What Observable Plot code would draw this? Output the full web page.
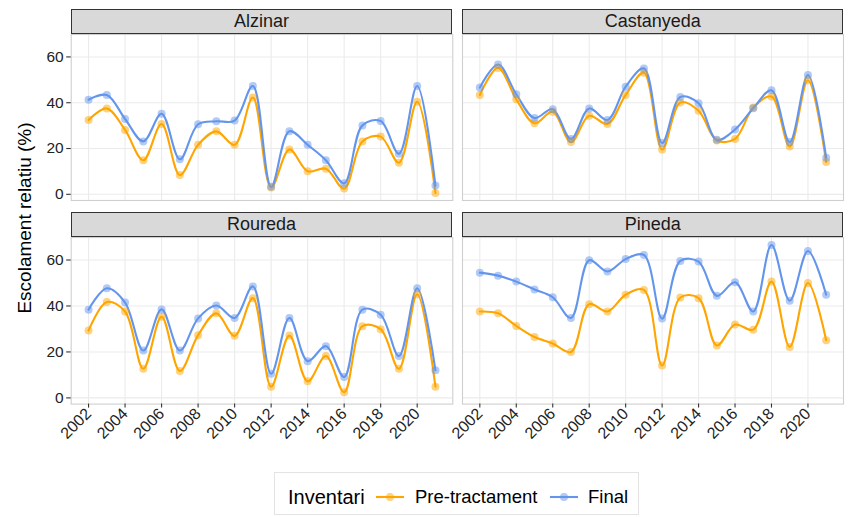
<!DOCTYPE html>
<html>
<head>
<meta charset="utf-8">
<script src="https://cdn.jsdelivr.net/npm/d3@7"></script>
<script src="https://cdn.jsdelivr.net/npm/@observablehq/plot@0.6"></script>
<style>
  html, body { margin: 0; padding: 0; background: #fff; }
  body { font-family: "Liberation Sans", Arial, Helvetica, sans-serif; }
  #chart { position: relative; width: 849px; height: 517px; overflow: hidden; }
  .abs { position: absolute; }
  .strip { position: absolute; box-sizing: border-box; background: #d9d9d9; border: 1.3px solid #333;
           display: flex; align-items: center; justify-content: center; font-size: 18px; color: #1a1a1a; }
  .ytitle { position: absolute; left: 25px; top: 218px; transform: translate(-50%, -50%) rotate(-90deg);
            white-space: nowrap; font-size: 19px; color: #000; }
  .legend { position: absolute; left: 274px; top: 472px; width: 365px; height: 43px; box-sizing: border-box;
            border: 1px solid #e3e3e3; }
  .legend span, .legend svg { position: absolute; top: 24px; transform: translateY(-50%); white-space: nowrap; }
</style>
</head>
<body>
<div id="chart"></div>
<script>
// ---- data ----
const years = d3.range(2002, 2022);
const panels = ["Alzinar", "Castanyeda", "Roureda", "Pineda"];
const seriesNames = ["Pre-tractament", "Final"];
const seriesColors = ["#FFA500", "#6495ED"];
const xTicks = [2002, 2004, 2006, 2008, 2010, 2012, 2014, 2016, 2018, 2020];
const yTicks = [0, 20, 40, 60];

const alzinarPre   = [32.5, 37.5, 28.1, 14.9, 30.7, 8.4, 21.6, 27.5, 21.6, 42.3, 3.0, 19.6, 10.1, 11.2, 2.5, 23.1, 25.2, 13.8, 40.4, 0.6];
const alzinarFinal = [41.3, 43.4, 32.9, 23.1, 35.2, 15.3, 30.6, 31.9, 32.2, 47.3, 3.3, 27.5, 21.6, 14.9, 4.8, 30.1, 32.0, 17.7, 47.3, 3.8];
const castanyedaPre   = [43.4, 55.2, 41.5, 31.0, 36.1, 22.8, 34.3, 30.7, 43.4, 53.1, 19.6, 40.1, 36.5, 23.5, 24.2, 37.9, 42.7, 20.9, 49.8, 14.1];
const castanyedaFinal = [46.6, 56.7, 43.7, 33.3, 37.2, 24.2, 37.5, 32.5, 47.0, 55.0, 22.4, 42.5, 39.8, 23.8, 28.3, 37.6, 45.4, 22.8, 52.1, 16.0];
const rouredaPre   = [29.3, 41.7, 37.6, 12.7, 35.3, 11.7, 27.3, 36.8, 27.0, 43.4, 4.9, 27.1, 7.2, 18.2, 2.5, 31.2, 29.9, 12.7, 45.1, 4.9];
const rouredaFinal = [38.4, 47.7, 41.5, 20.6, 38.5, 20.6, 34.6, 40.2, 34.8, 48.5, 10.5, 34.8, 16.0, 22.5, 9.1, 38.4, 36.2, 18.2, 47.7, 12.0];
const pinedaPre   = [37.6, 36.8, 31.3, 26.5, 23.7, 20.0, 40.8, 37.6, 44.9, 47.0, 14.1, 43.7, 43.4, 22.8, 31.9, 29.7, 50.6, 22.2, 50.0, 25.1];
const pinedaFinal = [54.5, 53.2, 50.6, 47.2, 43.8, 34.8, 59.9, 55.0, 60.4, 62.2, 34.5, 59.6, 59.3, 44.4, 50.3, 37.6, 66.5, 42.3, 63.9, 44.9];

const panelSeries = {
  Alzinar: [alzinarPre, alzinarFinal],
  Castanyeda: [castanyedaPre, castanyedaFinal],
  Roureda: [rouredaPre, rouredaFinal],
  Pineda: [pinedaPre, pinedaFinal]
};

// ---- shared scales (ggplot-like 5% expansion) ----
const allVals = Object.values(panelSeries).flat(2);
const yMin = d3.min(allVals), yMax = d3.max(allVals);
const yPad = (yMax - yMin) * 0.05;
const yDomain = [yMin - yPad, yMax + yPad];
const xPad = (d3.max(years) - d3.min(years)) * 0.05;
const xDomain = [d3.min(years) - xPad, d3.max(years) + xPad];

const font = '"Liberation Sans", Arial, Helvetica, sans-serif';
const chart = document.getElementById("chart");

// layout of the 2x2 grid of panels
const colX = [[70.7, 452.3], [462.3, 843.3]];
const rowY = [[34, 200], [236.7, 403.3]];
const stripH = 25;

panels.forEach((name, i) => {
  const col = i % 2, row = Math.floor(i / 2);
  const [x0, x1] = colX[col];
  const [y0, y1] = rowY[row];
  const showY = col === 0, showX = row === 1;
  const mL = showY ? x0 : 1, mR = 1, mT = 1, mB = showX ? 60 : 1;
  const left = showY ? 0 : x0 - 1;
  const width = mL + (x1 - x0) + mR;
  const height = mT + (y1 - y0) + mB;

  const [pre, fin] = panelSeries[name];
  const data = [];
  seriesNames.forEach((s, k) => {
    const vals = k === 0 ? pre : fin;
    years.forEach((yr, j) => data.push({year: yr, value: vals[j], series: s}));
  });

  const marks = [
    Plot.gridX(xTicks, {stroke: "#ebebeb", strokeOpacity: 1, strokeWidth: 1.1}),
    Plot.gridY(yTicks, {stroke: "#ebebeb", strokeOpacity: 1, strokeWidth: 1.1}),
    Plot.frame({stroke: "#cfcfcf", strokeWidth: 1.1}),
    Plot.line(data, {x: "year", y: "value", z: "series", stroke: "series", curve: "catmull-rom", strokeWidth: 2.1}),
    Plot.dot(data, {x: "year", y: "value", fill: "series", r: 4, fillOpacity: 0.5, stroke: null})
  ];
  if (showX) marks.push(Plot.axisX(xTicks, {tickRotate: -45, tickSize: 4, tickPadding: 3, fontSize: 16,
    tickFormat: d => String(d), fill: "#222", stroke: "#333", strokeWidth: 1.1, label: null}));
  if (showY) marks.push(Plot.axisY(yTicks, {tickSize: 4.5, tickPadding: 3, fontSize: 15.5,
    fill: "#222", stroke: "#333", strokeWidth: 1.1, label: null}));

  const p = Plot.plot({
    width, height,
    marginLeft: mL, marginRight: mR, marginTop: mT, marginBottom: mB,
    style: {fontFamily: font, background: "transparent", overflow: "visible"},
    x: {domain: xDomain, axis: null, label: null},
    y: {domain: yDomain, axis: null, label: null},
    color: {domain: seriesNames, range: seriesColors},
    marks
  });
  p.classList.add("abs");
  p.style.left = left + "px";
  p.style.top = (y0 - mT) + "px";
  chart.appendChild(p);

  const strip = document.createElement("div");
  strip.className = "strip";
  strip.style.left = x0 + "px";
  strip.style.top = (y0 - stripH) + "px";
  strip.style.width = (x1 - x0) + "px";
  strip.style.height = stripH + "px";
  strip.textContent = name;
  chart.appendChild(strip);
});

// y title
const yt = document.createElement("div");
yt.className = "ytitle";
yt.textContent = "Escolament relatiu (%)";
chart.appendChild(yt);

// legend
const lg = document.createElement("div");
lg.className = "legend";
const title = document.createElement("span");
title.style.left = "13px"; title.style.fontSize = "20px"; title.textContent = "Inventari";
lg.appendChild(title);
const keyX = [101, 275], labX = [140, 313];
seriesNames.forEach((s, k) => {
  const svg = d3.create("svg").attr("width", 28).attr("height", 20).style("left", keyX[k] + "px");
  svg.append("line").attr("x1", 0).attr("x2", 28).attr("y1", 10).attr("y2", 10)
    .attr("stroke", seriesColors[k]).attr("stroke-width", 2.1);
  svg.append("circle").attr("cx", 14).attr("cy", 10).attr("r", 4)
    .attr("fill", seriesColors[k]).attr("fill-opacity", 0.5);
  lg.appendChild(svg.node());
  const t = document.createElement("span");
  t.style.left = labX[k] + "px"; t.style.fontSize = "18.5px"; t.textContent = s;
  lg.appendChild(t);
});
chart.appendChild(lg);
</script>
</body>
</html>
